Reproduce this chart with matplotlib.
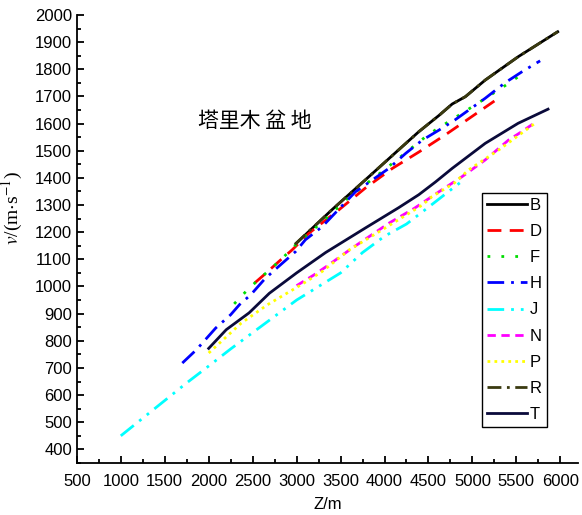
import numpy as np
import matplotlib.pyplot as plt
from matplotlib.ticker import MultipleLocator

plt.rcParams['font.family'] = ['Liberation Sans', 'DejaVu Sans']

# -----------------------------
# DATA (Z in m, v in m/s)
# -----------------------------
b_z = [3000, 3400, 3780, 4160, 4390, 4620, 4770, 4920, 5145, 5520, 5940, 5970]
b_v = [1160, 1282, 1392, 1503, 1570, 1630, 1672, 1699, 1760, 1846, 1932, 1938]

d_z = [2520, 2630, 2840, 2950, 3140, 3480, 3780, 4090, 4390, 4690, 4990, 5250]
d_v = [1012, 1043, 1104, 1135, 1196, 1282, 1362, 1435, 1495, 1558, 1625, 1683]

f_z = [2290, 2460, 2650, 2820, 3010, 3300, 3600, 4000, 4500, 4970, 5350, 5520]
f_v = [936, 994, 1049, 1098, 1160, 1240, 1330, 1430, 1560, 1656, 1735, 1772]

h_z = [1700, 1860, 1970, 2080, 2250, 2350, 2480, 2630, 2730, 2860, 2990, 3100,
       3290, 3670, 4050, 4240, 4430, 4620, 4800, 5145, 5370, 5560, 5770]
h_v = [718, 767, 807, 847, 896, 933, 970, 1025, 1055, 1092, 1129, 1172,
       1220, 1349, 1435, 1490, 1539, 1576, 1613, 1693, 1750, 1790, 1831]

j_z = [1000, 1250, 1500, 1750, 2000, 2250, 2500, 2750, 3000, 3250, 3500,
       3750, 4000, 4250, 4500, 4750, 4870]
j_v = [450, 515, 580, 645, 707, 770, 830, 890, 950, 1000, 1050,
       1125, 1185, 1230, 1292, 1355, 1385]

n_z = [3000, 3200, 3350, 3630, 4050, 4340, 4620, 4880, 5145, 5410, 5560, 5700]
n_v = [1003, 1043, 1076, 1141, 1233, 1288, 1349, 1404, 1466, 1539, 1570, 1601]

p_z = [2000, 2370, 2670, 3050, 3290, 3600, 3970, 4430, 4540, 4790, 4955, 5300, 5700]
p_v = [755, 865, 933, 1006, 1055, 1135, 1208, 1300, 1331, 1380, 1429, 1503, 1598]

r_z = [2980, 3400, 3780, 4160, 4390, 4620, 4770, 4920, 5145, 5520, 5940, 5970]
r_v = [1155, 1282, 1392, 1503, 1570, 1630, 1672, 1699, 1760, 1846, 1932, 1938]

t_z = [2000, 2200, 2460, 2690, 3000, 3330, 3780, 4160, 4390, 4580,
       4770, 5145, 5520, 5860]
t_v = [772, 841, 903, 975, 1050, 1125, 1215, 1290, 1338, 1385,
       1435, 1527, 1601, 1653]

# -----------------------------
# GRÁFICO
# -----------------------------
fig = plt.figure(figsize=(5.82, 5.15), dpi=100)
ax = fig.add_axes([0.132, 0.101, 0.861, 0.870])

lw = 2.0
ax.plot(b_z, b_v, color='black', lw=lw, ls='-', label='B')
ax.plot(d_z, d_v, color='#ff0000', lw=lw, ls=(0, (5, 3)), label='D')
ax.plot(f_z, f_v, color='#00dd00', lw=lw, ls=(0, (1, 4)), label='F')
ax.plot(h_z, h_v, color='#0000ff', lw=lw, ls=(0, (6, 2.5, 1, 2.5)), label='H')
ax.plot(j_z, j_v, color='#00ffff', lw=lw, ls=(0, (6, 2.5, 1, 2.5, 1, 2.5)), label='J')
ax.plot(n_z, n_v, color='#ff00ff', lw=lw, ls=(0, (3, 2)), label='N')
ax.plot(p_z, p_v, color='#ffff00', lw=lw, ls=(0, (1, 1.5)), label='P')
ax.plot(r_z, r_v, color='#3a3a10', lw=lw, ls=(0, (5, 2, 1, 2)), label='R')
ax.plot(t_z, t_v, color='#0a0a3a', lw=lw, ls='-', label='T')

ax.set_xlim(500, 6200)
ax.set_ylim(350, 2000)
ax.xaxis.set_major_locator(MultipleLocator(500))
ax.xaxis.set_minor_locator(MultipleLocator(250))
ax.yaxis.set_major_locator(MultipleLocator(100))
ax.yaxis.set_minor_locator(MultipleLocator(50))
ax.set_yticks(np.arange(400, 2001, 100))

for s in ['top', 'right']:
    ax.spines[s].set_visible(False)
for s in ['left', 'bottom']:
    ax.spines[s].set_linewidth(1.3)

ax.tick_params(which='major', direction='in', length=5, width=1.3, labelsize=12)
ax.tick_params(which='minor', direction='in', length=3, width=1.3)
ax.tick_params(axis='x', pad=8)

ax.set_xlabel('Z/m', fontsize=12, labelpad=6)
fig.text(0.022, 1 - 208 / 515, r'$v$/(m$\cdot$s$^{-1}$)', rotation=90,
         ha='center', va='center', fontsize=14, family='Liberation Serif',
         math_fontfamily='stix')

ax.text(2520, 1609, '塔里木 盆 地', fontsize=15, ha='center', va='center',
        family=['Noto Sans CJK SC', 'DejaVu Sans'])

leg = ax.legend(loc='upper left', bbox_to_anchor=(0.808, 0.603), fontsize=12,
                frameon=True, fancybox=False, edgecolor='black',
                framealpha=1, handlelength=2.4, handletextpad=0.2,
                labelspacing=0.67, borderpad=0.3, borderaxespad=0)
leg.get_frame().set_linewidth(1.0)

fig.savefig('out.png', dpi=100)
